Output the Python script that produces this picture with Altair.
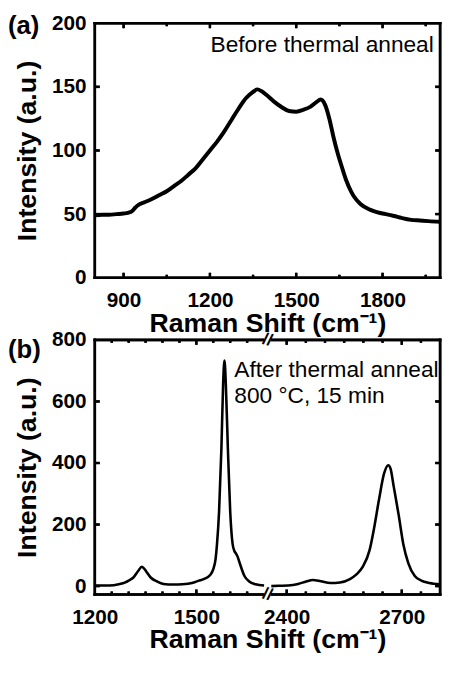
import altair as alt
import pandas as pd

FONT = "Liberation Sans"

# ---------------- Panel (a): before thermal anneal ----------------
a_shift = [800, 825, 850, 875, 900, 915, 930, 940, 950, 975, 1000, 1025, 1050, 1075,
           1100, 1125, 1150, 1175, 1200, 1225, 1250, 1275, 1300, 1325, 1350, 1365,
           1380, 1400, 1425, 1450, 1475, 1500, 1525, 1550, 1570, 1585, 1600, 1615,
           1630, 1645, 1660, 1673, 1690, 1700, 1723, 1756, 1780, 1811, 1840, 1866,
           1899, 1930, 1960, 2000]
a_int = [49, 49.5, 49.5, 50, 50.5, 51, 52.5, 55, 57, 59.5, 62, 65, 68, 72,
         76, 81, 86, 93, 100, 107, 115, 124, 133, 141, 146, 148,
         146.5, 143, 138, 134, 131, 130.5, 132, 134.5, 138, 140, 136, 125,
         110, 97, 86, 77, 68, 64, 58, 53.5, 51.5, 50, 48.5, 47,
         45.5, 45, 44.5, 44]

# ---------------- Panel (b): after thermal anneal ----------------
b1_shift = [1200, 1243, 1271, 1290, 1300, 1314, 1328, 1339, 1345, 1351, 1365, 1384,
            1403, 1431, 1459, 1487, 1506, 1525, 1540, 1550, 1557, 1561, 1567, 1574,
            1579, 1583, 1587, 1593, 1600, 1607, 1612, 1617, 1622, 1628, 1642, 1656,
            1675, 1700]
b1_int = [2, 2, 6, 12, 18, 28, 49, 63, 58, 49, 28, 15,
          7, 5, 6, 10, 17, 24, 35, 55, 90, 137, 241, 449,
          657, 733, 657, 449, 241, 137, 115, 106, 95, 75, 33, 15,
          6, 2]
b2_shift = [2360, 2379, 2404, 2430, 2451, 2468, 2489, 2514, 2539, 2565, 2582, 2599,
            2616, 2628, 2641, 2654, 2665, 2671, 2679, 2692, 2704, 2717, 2734, 2751,
            2772, 2800]
b2_int = [0, 1, 2, 7, 15, 20, 16, 10, 12, 23, 38, 64,
          116, 189, 283, 366, 393, 381, 324, 231, 137, 75, 33, 18,
          10, 6]

a_xdom = [800, 2000]
a_ydom = [0, 200]
a_x_labels = [900, 1200, 1500, 1800]
a_x_minor = [1050, 1350, 1650, 1950]
a_y_labels = [0, 50, 100, 150, 200]
a_y_inner = [50, 100, 150]

# broken axis: [1200, 1710] // [2350, 2800], each half of the panel width
b_seg1 = [1200, 1710]
b_seg2 = [2350, 2800]
b_ydom = [-27, 800]
b_x_labels = [1200, 1500, 2400, 2700]
b_x_major = [1500, 2400, 2700]
b_x_minor = [1250, 1300, 1350, 1400, 1450, 1550, 1600, 1650,
             2450, 2500, 2550, 2600, 2650, 2750]
b_y_labels = [0, 200, 400, 600, 800]
b_y_inner = [0, 200, 400, 600]

a_note = ["Before thermal anneal"]
a_note_x = [1978]
a_note_y = [182.6]
b_note = ["After thermal anneal", "800 °C, 15 min"]
b_note_x = [1612, 1612]
b_note_y = [703, 617]
b_break_x = [1710, 1710]
b_break_y = [800, -27]

XT = "Raman Shift (cm⁻¹)"
YT = "Intensity (a.u.)"

W = 350
H = 258
LAB = 21
TIT = 27
MAJ = 5
MIN = 3
SW = 2.6

L1 = b_seg1[1] - b_seg1[0]
L2 = b_seg2[1] - b_seg2[0]
BEXPR = (f"datum.shift <= {b_seg1[1]} ? (datum.shift - {b_seg1[0]}) / {L1} "
         f": 1 + (datum.shift - {b_seg2[0]}) / {L2}")
BLABEL = (f"format(round(datum.value <= 1 ? {b_seg1[0]} + datum.value * {L1} "
          f": {b_seg2[0]} + (datum.value - 1) * {L2}), 'd')")


def bpos(v):
    return (v - b_seg1[0]) / L1 if v <= b_seg1[1] else 1 + (v - b_seg2[0]) / L2


def x_axis(values, **kw):
    return alt.Axis(values=values, title=XT, ticks=False,
                    domain=False, grid=False, labelFlush=False,
                    labelFont=FONT, labelFontSize=LAB, labelFontWeight="bold",
                    labelColor="black", labelPadding=12,
                    titleFont=FONT, titleFontSize=TIT, titleFontWeight="bold",
                    titleColor="black", titlePadding=0, **kw)


def y_axis(values):
    return alt.Axis(values=values, format="d", title=YT, ticks=False,
                    domain=False, grid=False, labelFlush=False,
                    labelFont=FONT, labelFontSize=LAB, labelFontWeight="bold",
                    labelColor="black", labelPadding=9,
                    titleFont=FONT, titleFontSize=TIT, titleFontWeight="bold",
                    titleColor="black", titlePadding=10)


def with_calc(chart, calc):
    return chart.transform_calculate(xp=calc) if calc else chart


def frame_layers(x0, x1, y0, y1, X, Y, calc=None):
    rows = []
    for sid, xa, ya, xb, yb in (("L", x0, y0, x0, y1), ("R", x1, y0, x1, y1),
                                ("B", x0, y0, x1, y0), ("T", x0, y1, x1, y1)):
        rows += [{"shift": xa, "intensity": ya, "sid": sid},
                 {"shift": xb, "intensity": yb, "sid": sid}]
    line = with_calc(alt.Chart(pd.DataFrame(rows)), calc).mark_line(
        color="black", strokeWidth=SW, strokeCap="square").encode(x=X, y=Y, detail="sid:N")
    one = alt.Chart(pd.DataFrame({"k": [0]}))
    tv = one.mark_tick(color="black", orient="vertical", thickness=2.5,
                       size=H + 2.5, opacity=1)
    th = one.mark_tick(color="black", orient="horizontal", thickness=2.5,
                       size=W + 2.5, opacity=1)
    return [line,
            tv.encode(x=alt.value(0), y=alt.value(H / 2)),
            tv.encode(x=alt.value(W), y=alt.value(H / 2)),
            th.encode(x=alt.value(W / 2), y=alt.value(0)),
            th.encode(x=alt.value(W / 2), y=alt.value(H))]


def tick_layers(X, Y, xmaj, xmin, yin, calc=None):
    layers = []
    for vals, ln in ((xmaj, MAJ), (xmin, MIN)):
        base = with_calc(alt.Chart(pd.DataFrame({"shift": vals})), calc)
        r = base.mark_rule(color="black", strokeWidth=SW)
        layers += [r.encode(x=X, y=alt.value(H), y2=alt.value(H - ln)),
                   r.encode(x=X, y=alt.value(0), y2=alt.value(ln))]
        t = base.mark_tick(color="black", orient="vertical", thickness=2,
                           size=2 * ln, clip=True, opacity=1)
        layers += [t.encode(x=X, y=alt.value(H)), t.encode(x=X, y=alt.value(0))]
    ybase = alt.Chart(pd.DataFrame({"intensity": yin}))
    r = ybase.mark_rule(color="black", strokeWidth=SW)
    layers += [r.encode(y=Y, x=alt.value(0), x2=alt.value(MAJ)),
               r.encode(y=Y, x=alt.value(W), x2=alt.value(W - MAJ))]
    t = ybase.mark_tick(color="black", orient="horizontal", thickness=2,
                        size=2 * MAJ, clip=True, opacity=1)
    layers += [t.encode(y=Y, x=alt.value(0)), t.encode(y=Y, x=alt.value(W))]
    return layers


def letter(t, yv):
    return alt.Chart(pd.DataFrame({"k": [0]})).mark_text(
        text=t, font=FONT, fontSize=26, fontWeight="bold",
        align="left", baseline="middle", color="black").encode(
        x=alt.value(-88), y=alt.value(yv))


# ---------- panel a ----------
xs_a = alt.Scale(domain=a_xdom, nice=False, zero=False)
ys_a = alt.Scale(domain=a_ydom, nice=False, zero=False)
Xa = alt.X("shift:Q", scale=xs_a, axis=x_axis(a_x_labels, format="d"))
Ya = alt.Y("intensity:Q", scale=ys_a, axis=y_axis(a_y_labels))

df_a = pd.DataFrame({"shift": a_shift, "intensity": a_int})
line_a = alt.Chart(df_a).mark_line(color="black", strokeWidth=4,
                                   interpolate="monotone").encode(x=Xa, y=Ya)
note_a = alt.Chart(pd.DataFrame({"shift": a_note_x, "intensity": a_note_y,
                                 "label": a_note})).mark_text(
    font=FONT, fontSize=23, align="right", baseline="middle", color="black").encode(
    x=Xa, y=Ya, text="label:N")

panel_a = alt.layer(
    line_a,
    *frame_layers(a_xdom[0], a_xdom[1], a_ydom[0], a_ydom[1], Xa, Ya),
    *tick_layers(Xa, Ya, a_x_labels, a_x_minor, a_y_inner),
    note_a, letter("(a)", 2.5),
).properties(width=W, height=H)

# ---------- panel b ----------
xs_b = alt.Scale(domain=[0, 2], nice=False, zero=False)
ys_b = alt.Scale(domain=b_ydom, nice=False, zero=False)
Xb = alt.X("xp:Q", scale=xs_b,
           axis=x_axis([bpos(v) for v in b_x_labels], labelExpr=BLABEL))
Yb = alt.Y("intensity:Q", scale=ys_b, axis=y_axis(b_y_labels))

df_b = pd.concat([
    pd.DataFrame({"shift": b1_shift, "intensity": b1_int, "seg": "low"}),
    pd.DataFrame({"shift": b2_shift, "intensity": b2_int, "seg": "high"}),
])
line_b = alt.Chart(df_b).mark_line(color="black", strokeWidth=2.6,
                                   interpolate="monotone").transform_calculate(
    xp=BEXPR).encode(x=Xb, y=Yb, detail="seg:N")
note_b = alt.Chart(pd.DataFrame({"shift": b_note_x, "intensity": b_note_y,
                                 "label": b_note})).mark_text(
    font=FONT, fontSize=23, align="left", baseline="middle", color="black").transform_calculate(
    xp=BEXPR).encode(x=Xb, y=Yb, text="label:N")
brk = pd.DataFrame({"shift": b_break_x, "intensity": b_break_y})
brk_mask = alt.Chart(brk).mark_square(size=40, color="white", opacity=1,
                                      filled=True).transform_calculate(
    xp=BEXPR).encode(x=Xb, y=Yb)
brk_mark = alt.Chart(brk).mark_text(text="//", font=FONT, fontSize=17, fontWeight="bold",
                                    angle=15, align="center", baseline="middle",
                                    color="black").transform_calculate(
    xp=BEXPR).encode(x=Xb, y=Yb)

panel_b = alt.layer(
    line_b,
    *frame_layers(b_seg1[0], b_seg2[1], b_ydom[0], b_ydom[1], Xb, Yb, BEXPR),
    *tick_layers(Xb, Yb, b_x_major, b_x_minor, b_y_inner, BEXPR),
    brk_mask, brk_mark,
    note_b, letter("(b)", 10),
).properties(width=W, height=H)

chart = alt.vconcat(panel_a, panel_b, spacing=63, bounds="flush").properties(
    padding={"left": 0, "top": 0, "right": 0, "bottom": 0}, background="white"
).configure_view(strokeWidth=0)

chart.save("out.html", embed_options={"renderer": "svg", "actions": False})
